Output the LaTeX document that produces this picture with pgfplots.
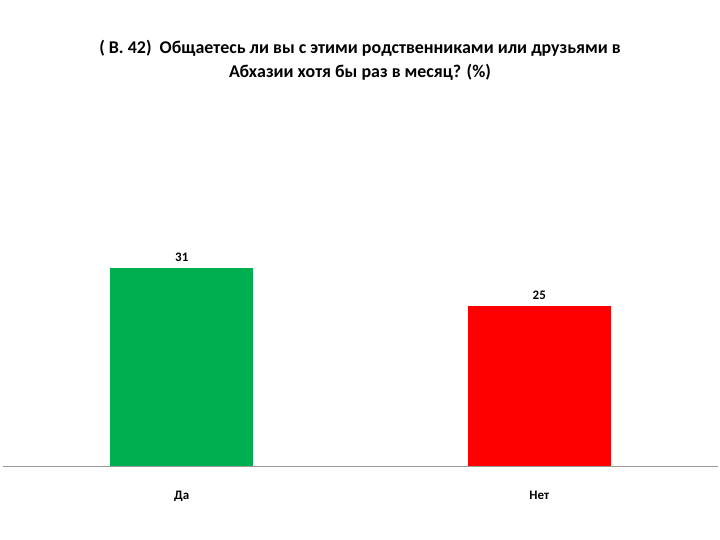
\documentclass[border=0pt]{standalone}
\usepackage{fontspec}
\setmainfont{Carlito}
\usepackage{pgfplots}
\pgfplotsset{compat=1.18}
\definecolor{barGreen}{RGB}{0,176,80}
\definecolor{barRed}{RGB}{255,0,0}
\begin{document}
\begin{tikzpicture}
\path[use as bounding box] (0bp,0bp) rectangle (720bp,-540bp);
\node[font=\bfseries\fontsize{18}{24}\selectfont, align=center] at (360bp,-60bp)
  {( В. 42)\ \ Общаетесь ли вы с этими родственниками или друзьями в\\Абхазии хотя бы раз в месяц? (\%)};
\begin{axis}[
  at={(3bp,-466bp)}, anchor=south west,
  scale only axis, width=715bp, height=383bp,
  xmin=-0.5, xmax=1.5, ymin=0, ymax=60,
  enlargelimits=false,
  axis x line*=bottom, hide y axis,
  x axis line style={-, draw=gray!80, line width=0.8pt},
  ybar, bar width=143bp, bar shift=0pt,
  xtick={0,1}, xticklabels={Да,Нет},
  major tick length=0pt,
  xticklabel style={font=\bfseries\fontsize{13}{15}\selectfont, yshift=-22bp},
  /pgf/number format/assume math mode=true,
  nodes near coords,
  every node near coord/.append style={font=\bfseries\fontsize{13}{15}\selectfont, black, yshift=3bp},
  clip=false,
]
\addplot[draw=none, fill=barGreen] coordinates {(0,31)};
\addplot[draw=none, fill=barRed] coordinates {(1,25)};
\end{axis}
\end{tikzpicture}
\end{document}
